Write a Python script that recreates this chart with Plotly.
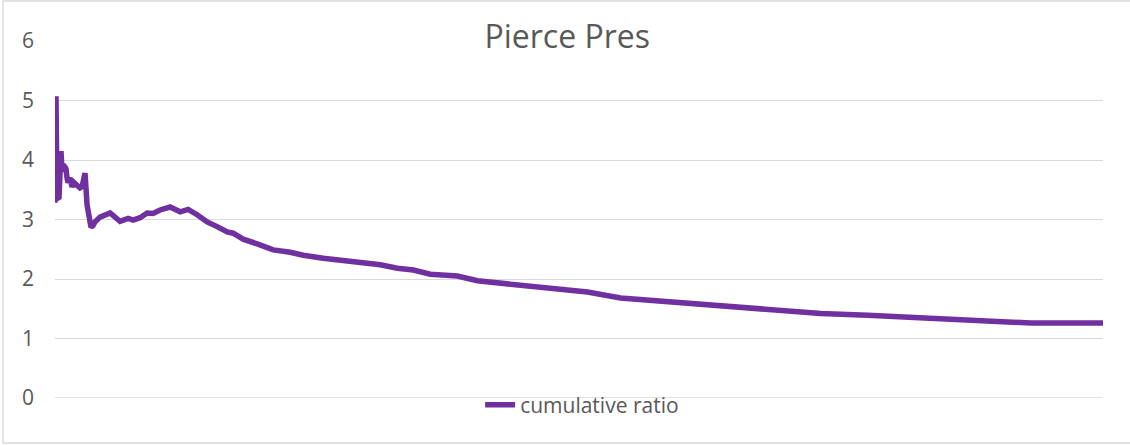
import plotly.graph_objects as go

obs = [0, 1, 2, 4, 6, 7, 8, 10, 11, 12, 13, 15, 17, 19, 21, 25, 27, 30, 32, 34,
       36, 38, 40, 45, 55, 65, 73, 78, 85, 92, 98, 105, 115, 125, 133, 142, 152,
       162, 172, 178, 188, 202, 218, 235, 248, 268, 292, 325, 342, 358, 375, 392,
       402, 422, 475, 498, 532, 565, 615, 665, 715, 765, 812, 878, 945, 975, 1047]
cumulative_ratio = [3.28, 5.07, 3.35, 3.37, 4.15, 3.80, 3.92, 3.88, 3.85, 3.70,
                    3.62, 3.70, 3.55, 3.62, 3.58, 3.53, 3.55, 3.78, 3.25, 3.10,
                    2.87, 2.90, 2.96, 3.04, 3.11, 2.97, 3.02, 2.99, 3.03, 3.11,
                    3.10, 3.16, 3.21, 3.13, 3.17, 3.08, 2.96, 2.88, 2.79, 2.77,
                    2.67, 2.59, 2.49, 2.45, 2.40, 2.35, 2.30, 2.24, 2.18, 2.15,
                    2.08, 2.06, 2.05, 1.97, 1.88, 1.82, 1.78, 1.68, 1.61, 1.55,
                    1.48, 1.42, 1.39, 1.33, 1.28, 1.26, 1.26]
y_ticks = [0, 1, 2, 3, 4, 5, 6]

TEXT = "#595959"
GRID = "#d9d9d9"
FONT = "Open Sans"

fig = go.Figure()
fig.add_trace(go.Scatter(
    x=obs, y=cumulative_ratio, mode="lines", name="cumulative ratio",
    line=dict(color="#7030A0", width=5.5, shape="linear"),
))

fig.update_layout(
    width=1130, height=445,
    margin=dict(l=55, r=27, t=41, b=47),
    paper_bgcolor="white", plot_bgcolor="white",
    font=dict(family=FONT, color=TEXT),
    title=dict(text="Pierce Pres", x=0.502, xanchor="center",
               y=1 - 37 / 445, yanchor="middle", yref="container",
               font=dict(family=FONT, size=32, color=TEXT)),
    showlegend=True,
    legend=dict(orientation="h", x=0.503, xanchor="center", y=-0.02,
                yanchor="middle", font=dict(family=FONT, size=21, color=TEXT),
                bgcolor="rgba(0,0,0,0)"),
    xaxis=dict(range=[obs[0], obs[-1]], showgrid=False, zeroline=False,
               showticklabels=False, showline=False, ticks=""),
    yaxis=dict(range=[0, 6], tickvals=y_ticks, showgrid=True, gridcolor=GRID,
               gridwidth=1.3, zeroline=False, showline=False, ticks="",
               tickfont=dict(family=FONT, size=21, color=TEXT),
               ticklabelstandoff=20),
    shapes=[
        dict(type="line", xref="x", yref="y", x0=obs[0], x1=obs[-1], y0=0, y1=0,
             line=dict(color=GRID, width=1.3), layer="below"),
        dict(type="rect", xref="paper", yref="paper",
             x0=(3 - 55) / 1048, x1=(1135 - 55) / 1048,
             y0=(398 - 443) / 357, y1=(398 - 1) / 357,
             line=dict(color=GRID, width=1.3), layer="below"),
    ],
)

fig.write_html("out.html", config={"displayModeBar": False},
               post_script="document.body.style.margin='0';document.body.style.overflow='hidden';")
